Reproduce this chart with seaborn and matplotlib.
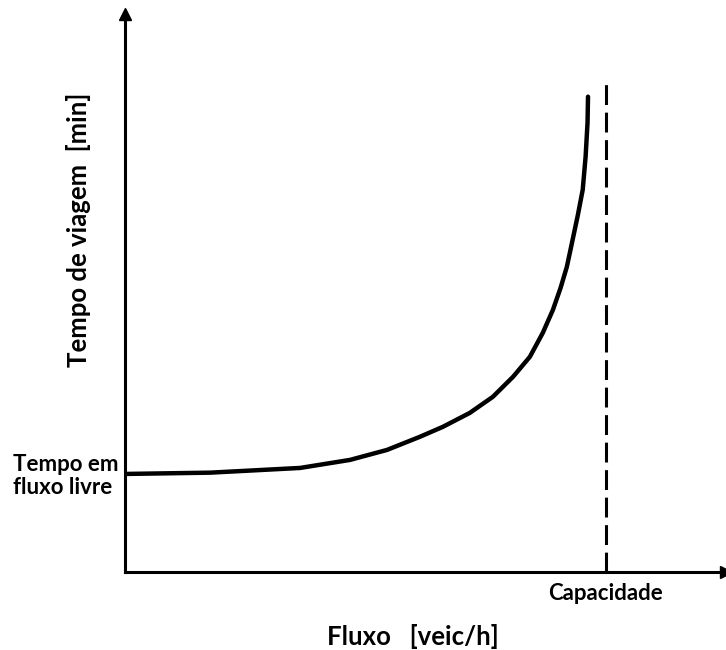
import numpy as np
import pandas as pd
import matplotlib
matplotlib.use("Agg")
import matplotlib.pyplot as plt
import seaborn as sns

# flow as fraction of capacity, travel time as multiple of free-flow time
flow = [0.002, 0.177, 0.364, 0.468, 0.545, 0.613, 0.661, 0.717, 0.765,
        0.807, 0.842, 0.869, 0.890, 0.906, 0.919, 0.931, 0.942, 0.952,
        0.958, 0.962, 0.963]
travel_time = [1.000, 1.013, 1.061, 1.143, 1.245, 1.378, 1.480, 1.622,
               1.786, 1.990, 2.194, 2.439, 2.673, 2.898, 3.112, 3.388,
               3.643, 3.898, 4.235, 4.582, 4.847]
capacity = 1.0
capacity_top = 4.99
free_flow_time = 1.0

sns.set_style("white")
plt.rcParams["font.family"] = ["Lato", "DejaVu Sans"]
plt.rcParams["text.color"] = "black"

df = pd.DataFrame({"Fluxo": flow, "Tempo": travel_time})

fig = plt.figure(figsize=(7.26, 6.5), dpi=100)
ax = fig.add_axes([125 / 726, 78 / 650, 601 / 726, 558 / 650])

sns.lineplot(data=df, x="Fluxo", y="Tempo", ax=ax, color="black",
             linewidth=3.2, sort=False, estimator=None,
             solid_capstyle="round", solid_joinstyle="round")
ax.plot([capacity, capacity], [0, capacity_top], color="black",
        linewidth=2.2, linestyle=(0, (6.5, 2.5)))

ax.set_xlim(0, 1.25)
ax.set_ylim(0, 5.69)
ax.set_xticks([])
ax.set_yticks([])
ax.set_xlabel("")
ax.set_ylabel("")
for side in ["top", "right"]:
    ax.spines[side].set_visible(False)
for side in ["left", "bottom"]:
    ax.spines[side].set_linewidth(2.2)
    ax.spines[side].set_color("black")

# arrow heads
ax.plot(1, 0, ">k", markersize=9, transform=ax.transAxes, clip_on=False)
ax.plot(0, 1, "^k", markersize=9, transform=ax.transAxes, clip_on=False)

ax.text(capacity, -0.22, "Capacidade", ha="center", va="center",
        fontsize=16, fontweight="bold")
fig.text(13 / 726, 1 - 476 / 650, "Tempo em\nfluxo livre", ha="left",
         va="center", fontsize=16, fontweight="bold", linespacing=1.1)
fig.text(413 / 726, 1 - 645 / 650, "Fluxo   [veic/h]", ha="center",
         va="baseline", fontsize=18.5, fontweight="bold")
fig.text(79 / 726, 1 - 230 / 650, "Tempo de viagem  [min]", ha="center",
         va="center", fontsize=18.5, fontweight="bold", rotation=90)

fig.savefig("out.png", dpi=100, facecolor="white")
